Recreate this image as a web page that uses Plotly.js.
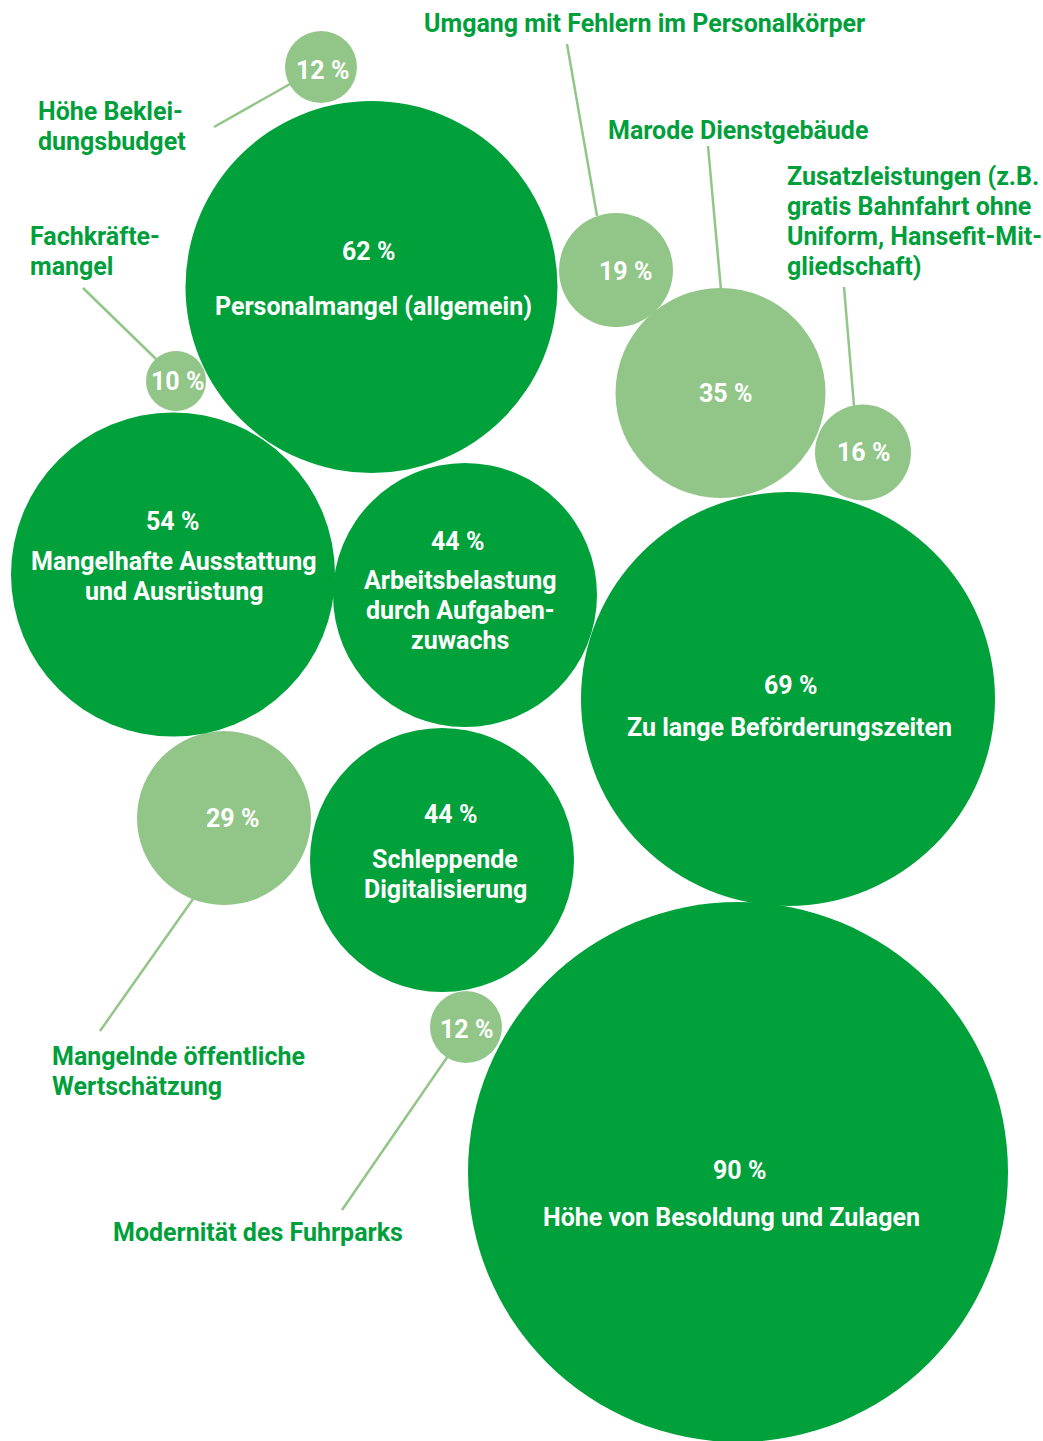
<!DOCTYPE html>
<html>
<head>
<meta charset="utf-8">
<script src="https://cdn.plot.ly/plotly-3.0.1.min.js"></script>
<style>
html,body{margin:0;padding:0;background:#fff;}
#chart{width:1043px;height:1441px;}
</style>
</head>
<body>
<div id="chart"></div>
<script>
// ---------- DATA ----------
const categories = [
  "Höhe von Besoldung und Zulagen",
  "Zu lange Beförderungszeiten",
  "Personalmangel (allgemein)",
  "Mangelhafte Ausstattung und Ausrüstung",
  "Arbeitsbelastung durch Aufgabenzuwachs",
  "Schleppende Digitalisierung",
  "Marode Dienstgebäude",
  "Mangelnde öffentliche Wertschätzung",
  "Umgang mit Fehlern im Personalkörper",
  "Zusatzleistungen (z.B. gratis Bahnfahrt ohne Uniform, Hansefit-Mitgliedschaft)",
  "Höhe Bekleidungsbudget",
  "Modernität des Fuhrparks",
  "Fachkräftemangel"
];
const values = [90, 69, 62, 54, 44, 44, 35, 29, 19, 16, 12, 12, 10];
// label text as printed (line breaks / hyphenation)
const labelLines = [
  ["Höhe von Besoldung und Zulagen"],
  ["Zu lange Beförderungszeiten"],
  ["Personalmangel (allgemein)"],
  ["Mangelhafte Ausstattung", "und Ausrüstung"],
  ["Arbeitsbelastung", "durch Aufgaben-", "zuwachs"],
  ["Schleppende", "Digitalisierung"],
  ["Marode Dienstgebäude"],
  ["Mangelnde öffentliche", "Wertschätzung"],
  ["Umgang mit Fehlern im Personalkörper"],
  ["Zusatzleistungen (z.B.", "gratis Bahnfahrt ohne", "Uniform, Hansefit-Mit-", "gliedschaft)"],
  ["Höhe Beklei-", "dungsbudget"],
  ["Modernität des Fuhrparks"],
  ["Fachkräfte-", "mangel"]
];

// ---------- LAYOUT (positions in page pixels) ----------
const W = 1043, H = 1441;
const cx = [738, 788, 371.5, 173, 465, 442, 720.5, 224, 616, 863, 321, 466, 176];
const cy = [1172, 699, 287, 574.5, 595, 860, 393, 818, 270, 452.5, 67, 1027, 381];
const pctX = [739, 790, 368, 172, 457, 450, 725, 232, 625, 863, 322, 466, 177];
const pctY = [1170, 685, 251, 521, 541, 814, 393, 818, 271, 452, 70, 1029, 381];
const inside = [true, true, true, true, true, true, false, false, false, false, false, false, false];
const labX = [731, 789, 373, 174, 460, 445, 608, 52, 424, 787, 38, 113, 30];
const labY = [1217, 727, 306, 561, 580, 859, 130, 1056, 23, 176, 111, 1232, 236];
const lineStep = 30;
// leader lines for outside labels: [x0,y0,x1,y1]
const leaders = {
  6: [708, 146, 721, 290],
  7: [100, 1031, 193, 899],
  8: [567, 44, 597, 216],
  9: [844, 287, 854, 406],
  10: [214, 127, 290, 84],
  11: [342, 1210, 448, 1056],
  12: [83, 288, 156, 359]
};

const DARK = "#00a13b";
const LIGHT = "#92c689";
const TXT_GREEN = "#009f3c";
const RPX_PER_PCT = 3; // radius in px per percentage point
const FONT = "Roboto, 'Open Sans', sans-serif";
const FS = 25;

function idx(cond){ return values.map((v,i)=>i).filter(cond); }
const lightIdx = idx(i => !inside[i]);
const darkIdx = idx(i => inside[i]);

function bubbleTrace(ids, color){
  return {
    type: "scatter", mode: "markers",
    x: ids.map(i => cx[i]), y: ids.map(i => cy[i]),
    text: ids.map(i => categories[i] + ": " + values[i] + " %"),
    hoverinfo: "text",
    marker: {
      color: color,
      size: ids.map(i => values[i] * RPX_PER_PCT * 2),
      sizemode: "diameter", sizeref: 1,
      line: {width: 0}, opacity: 1
    },
    cliponaxis: true,
    showlegend: false
  };
}

const traces = [bubbleTrace(lightIdx, LIGHT), bubbleTrace(darkIdx, DARK)];

const annotations = [];
values.forEach((v, i) => {
  annotations.push({
    x: pctX[i], y: pctY[i], xref: "x", yref: "y",
    text: v + " %", showarrow: false,
    xanchor: "center", yanchor: "middle",
    borderpad: 0, borderwidth: 0,
    font: {family: FONT, size: FS, color: "#ffffff", weight: 700}
  });
  labelLines[i].forEach((ln, k) => {
    annotations.push({
      x: labX[i], y: labY[i] + k * lineStep, xref: "x", yref: "y",
      text: ln, showarrow: false,
      xanchor: inside[i] ? "center" : "left", yanchor: "middle",
      borderpad: 0, borderwidth: 0,
      font: {family: FONT, size: FS, color: inside[i] ? "#ffffff" : TXT_GREEN, weight: 700}
    });
  });
});

const shapes = Object.keys(leaders).map(k => {
  const l = leaders[k];
  return {
    type: "line", xref: "x", yref: "y",
    x0: l[0], y0: l[1], x1: l[2], y1: l[3],
    line: {color: LIGHT, width: 2.5}, layer: "below"
  };
});

const layout = {
  width: W, height: H,
  margin: {l: 0, r: 0, t: 0, b: 0, pad: 0},
  paper_bgcolor: "#ffffff", plot_bgcolor: "#ffffff",
  xaxis: {range: [0, W], visible: false, fixedrange: true},
  yaxis: {range: [H, 0], visible: false, fixedrange: true},
  showlegend: false,
  hovermode: "closest",
  annotations: annotations,
  shapes: shapes
};

Plotly.newPlot("chart", traces, layout, {displayModeBar: false, staticPlot: true});
</script>
</body>
</html>
